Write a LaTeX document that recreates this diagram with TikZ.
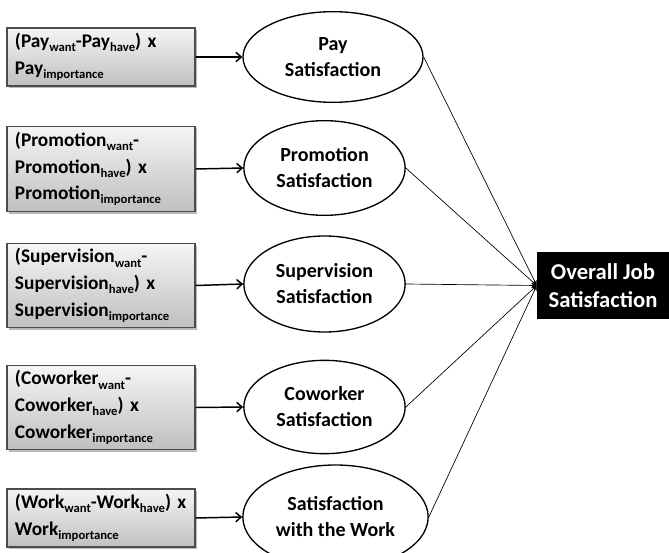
\documentclass[tikz,border=0pt]{standalone}
\usepackage{fontspec}
\setmainfont{Carlito}
\usetikzlibrary{arrows.meta,shapes.geometric,shadows}
\newcommand{\sbs}[1]{\raisebox{-0.45ex}{\fontsize{9.5}{10}\selectfont #1}}
\newcommand{\boxline}[1]{\mbox{#1}}
\begin{document}
\begin{tikzpicture}[x=0.75pt,y=-0.75pt,
  font=\fontsize{14.5}{20}\selectfont\bfseries,
  inbox/.style={draw=black!70, line width=0.8pt, top color=gray!8, bottom color=gray!50,
    minimum width=141pt, text width=129pt, align=left, inner sep=0pt,
    drop shadow={shadow xshift=1.5pt, shadow yshift=-1.5pt, opacity=0.45, fill=black!60}},
  sat/.style={ellipse, draw=black, line width=1pt, align=center, inner sep=0pt,
    font=\fontsize{15}{19.5}\selectfont\bfseries},
  outbox/.style={fill=black, text=white, align=center, minimum width=99pt, minimum height=50pt, inner sep=0pt,
    font=\fontsize{17}{20.5}\selectfont\bfseries},
  feed/.style={line width=1.1pt, -{Straight Barb[length=4pt,width=7pt]}},
  conv/.style={line width=0.5pt, -{Stealth[length=4pt,width=3.5pt]}}
]
\useasboundingbox (0,0) rectangle (669,553);

\node[inbox, minimum height=43.5pt] (b1) at (101,57)
  {\boxline{(Pay\sbs{want}-Pay\sbs{have}) x}\\\boxline{Pay\sbs{importance}}};
\node[inbox, minimum height=64pt] (b2) at (101,169)
  {\boxline{(Promotion\sbs{want}-}\\\boxline{Promotion\sbs{have}) x}\\\boxline{Promotion\sbs{importance}}};
\node[inbox, minimum height=63pt] (b3) at (101,285.5)
  {\boxline{(Supervision\sbs{want}-}\\\boxline{Supervision\sbs{have}) x}\\\boxline{Supervision\sbs{importance}}};
\node[inbox, minimum height=63pt] (b4) at (101,407.5)
  {\boxline{(Coworker\sbs{want}-}\\\boxline{Coworker\sbs{have}) x}\\\boxline{Coworker\sbs{importance}}};
\node[inbox, minimum height=43.5pt] (b5) at (101,518)
  {\boxline{(Work\sbs{want}-Work\sbs{have}) x}\\\boxline{Work\sbs{importance}}};

\node[sat, minimum width=135pt, minimum height=68pt] (e1) at (333,57) {Pay\\Satisfaction};
\node[sat, minimum width=121pt, minimum height=71pt] (e2) at (324.5,168) {Promotion\\Satisfaction};
\node[sat, minimum width=121pt, minimum height=72pt] (e3) at (324.5,284) {Supervision\\Satisfaction};
\node[sat, minimum width=121pt, minimum height=70pt] (e4) at (324.5,407) {Coworker\\Satisfaction};
\node[sat, minimum width=139pt, minimum height=78pt] (e5) at (335.5,517) {Satisfaction\\with the Work};

\node[outbox] (o) at (603,285.5) {Overall Job\\Satisfaction};

\foreach \i in {1,...,5} {
  \draw[feed] (b\i.east) -- (e\i.west);
  \draw[conv] (e\i.east) -- (o.west);
}
\end{tikzpicture}
\end{document}
